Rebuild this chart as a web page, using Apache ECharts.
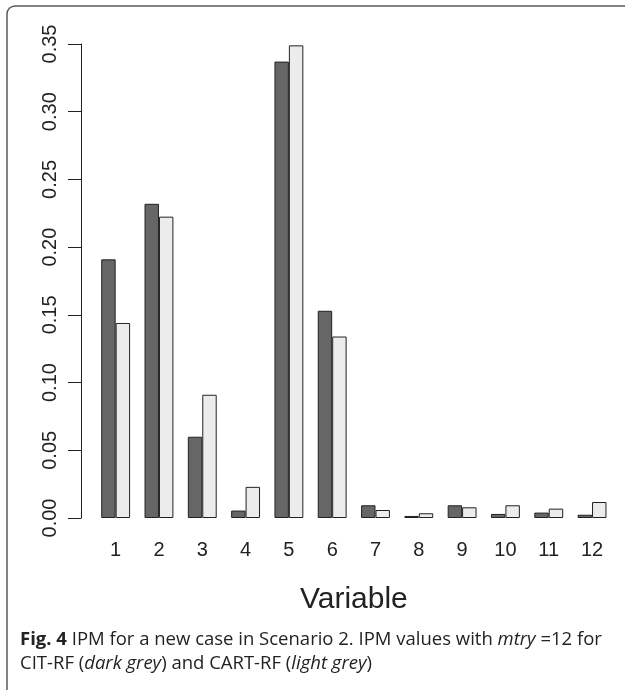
<!DOCTYPE html>
<html>
<head>
<meta charset="utf-8">
<script src="https://cdn.jsdelivr.net/npm/echarts@6/dist/echarts.min.js"></script>
<style>
html,body{margin:0;padding:0;background:#fff;}
#chart{width:625px;height:690px;}
</style>
</head>
<body>
<div id="chart"></div>
<script>
const categories = ['1','2','3','4','5','6','7','8','9','10','11','12'];
const citRF  = [0.191, 0.232, 0.060, 0.0055, 0.337, 0.153, 0.0094, 0.0015, 0.0094, 0.0030, 0.0040, 0.0024];
const cartRF = [0.144, 0.2225, 0.091, 0.023, 0.349, 0.134, 0.0059, 0.0035, 0.0079, 0.0094, 0.0069, 0.0118];
const yTicks = [0, 0.05, 0.10, 0.15, 0.20, 0.25, 0.30, 0.35];
const xTitle = 'Variable';
const captionLine1 = '{b|Fig. 4} IPM for a new case in Scenario 2. IPM values with {i|mtry} =12 for';
const captionLine2 = 'CIT-RF ({i|dark grey}) and CART-RF ({i|light grey})';

const chart = echarts.init(document.getElementById('chart'), null, {renderer:'canvas'});
const axisFont = 'Liberation Sans';
const capFont = 'Open Sans';
const capSize = 18.5;
const capLH = 24.5;
chart.setOption({
  animation: false,
  backgroundColor: '#fff',
  grid: {left: 94, right: 11.3, top: 44, bottom: 172, containLabel: false},
  xAxis: {
    type: 'category',
    data: categories,
    axisLine: {show: false},
    axisTick: {show: false},
    axisLabel: {fontFamily: axisFont, fontSize: 20, color: '#222', margin: 22},
    name: xTitle,
    nameLocation: 'middle',
    nameGap: 67,
    nameTextStyle: {fontFamily: axisFont, fontSize: 30, color: '#222'}
  },
  yAxis: {
    type: 'value',
    min: yTicks[0],
    max: yTicks[yTicks.length - 1],
    interval: 0.05,
    offset: 13,
    splitLine: {show: false},
    axisLine: {show: true, lineStyle: {color: '#222', width: 1}},
    axisTick: {show: true, inside: false, length: 13, lineStyle: {color: '#222', width: 1}},
    axisLabel: {
      fontFamily: axisFont, fontSize: 20, color: '#222', rotate: 90, margin: 21,
      formatter: v => v.toFixed(2)
    }
  },
  series: [
    {name: 'CIT-RF', type: 'bar', data: citRF, barGap: '0%', barCategoryGap: '33.33%',
     itemStyle: {color: '#666666', borderColor: '#222', borderWidth: 1}},
    {name: 'CART-RF', type: 'bar', data: cartRF, barGap: '0%', barCategoryGap: '33.33%',
     itemStyle: {color: '#ececec', borderColor: '#222', borderWidth: 1}}
  ],
  graphic: [
    {type: 'rect', shape: {x: 7, y: 6, width: 700, height: 800, r: 8}, silent: true,
     style: {fill: 'none', stroke: '#5a5a5a', lineWidth: 1.5}},
    {type: 'text', left: 20, top: 627, silent: true,
     style: {
       text: captionLine1 + '\n' + captionLine2,
       fontFamily: capFont, fontSize: capSize, fill: '#222', lineHeight: capLH,
       rich: {
         b: {fontFamily: capFont, fontSize: capSize, fontWeight: 'bold', fill: '#222', lineHeight: capLH},
         i: {fontFamily: capFont, fontSize: capSize, fontStyle: 'italic', fill: '#222', lineHeight: capLH}
       }
     }}
  ]
});
</script>
</body>
</html>
